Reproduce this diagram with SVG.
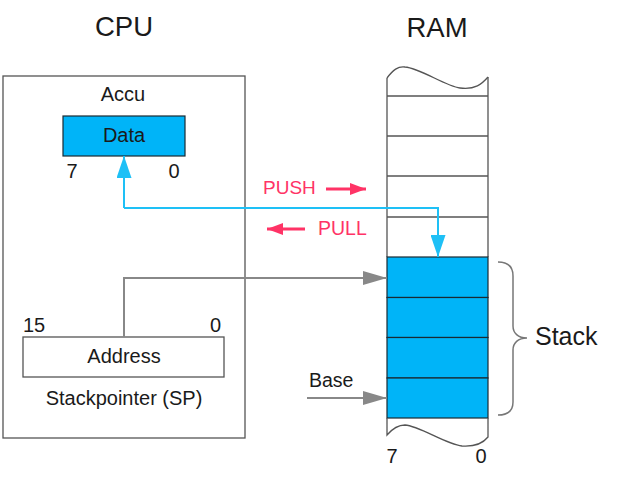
<svg xmlns="http://www.w3.org/2000/svg" width="621" height="486" viewBox="0 0 621 486">
<defs>
<style>
text{font-family:"Liberation Sans",Arial,sans-serif;fill:#1a1a1a;font-size:20px}
.box{fill:#fff;stroke:#555;stroke-width:1.3}
.blue{fill:#00b4f8;stroke:#1a2a33;stroke-width:1.2}
.cell{stroke:#555;stroke-width:1.3;fill:none}
.red{fill:#ff3366}
.redl{stroke:#ff3366;stroke-width:3;fill:none}
.gl{stroke:#888;stroke-width:2;fill:none}
.bl{stroke:#1ec0f6;stroke-width:2;fill:none}
</style>
<marker id="ag" markerWidth="24" markerHeight="14" viewBox="0 0 24 14" refX="24" refY="7" orient="auto" markerUnits="userSpaceOnUse"><path d="M0,0 L24,7 L0,14 z" fill="#888"/></marker>
<marker id="ab" markerWidth="22" markerHeight="15" viewBox="0 0 22 15" refX="22" refY="7.5" orient="auto" markerUnits="userSpaceOnUse"><path d="M0,0 L22,7.5 L0,15 z" fill="#1ec0f6"/></marker>
<marker id="ar" markerWidth="16" markerHeight="12" viewBox="0 0 16 12" refX="16" refY="6" orient="auto" markerUnits="userSpaceOnUse"><path d="M0,0 L16,6 L0,12 z" fill="#ff3366"/></marker>
</defs>
<rect width="621" height="486" fill="#fff"/>
<text x="124" y="36" style="font-size:27.5px" text-anchor="middle">CPU</text>
<text x="437" y="37" style="font-size:27.5px" text-anchor="middle">RAM</text>
<g id="cpu">
<rect class="box" x="3" y="76" width="242" height="362"/>
<text x="123" y="101" text-anchor="middle">Accu</text>
</g>
<g id="accu">
<rect class="blue" x="63" y="116" width="122" height="40"/>
<text x="124" y="142" text-anchor="middle">Data</text>
<text x="72" y="178" text-anchor="middle">7</text>
<text x="174" y="178" text-anchor="middle">0</text>
</g>
<g id="sp">
<rect class="box" x="23" y="337" width="201" height="40"/>
<text x="124" y="363" text-anchor="middle">Address</text>
<text x="23" y="332">15</text>
<text x="221" y="332" text-anchor="end">0</text>
<text x="124" y="405" text-anchor="middle">Stackpointer (SP)</text>
</g>
<g id="ram">
<path class="cell" d="M387,78 C393,70 398,66 405,67 C420,68 445,86 460,88 C475,90 482,84 488,77"/>
<path class="cell" d="M387,78 V257 M488,77 V257 M387,96 H488 M387,136 H488 M387,176 H488 M387,217 H488"/>
<rect class="blue" x="387" y="257" width="101" height="40.5"/>
<rect class="blue" x="387" y="297.5" width="101" height="40"/>
<rect class="blue" x="387" y="337.5" width="101" height="40.5"/>
<rect class="blue" x="387" y="378" width="101" height="40"/>
<path class="cell" d="M387,418 V435 C393,428 398,425 405,425 C420,426 445,444 462,446 C477,447 484,442 488,437 V418"/>
<text x="392" y="463" text-anchor="middle">7</text>
<text x="481" y="463" text-anchor="middle">0</text>
</g>
<g id="stack">
<path d="M498,262 C508,262 513,266 513,276 V326 C513,333 518,338 527,338 C518,338 513,343 513,350 V402 C513,411 508,415 498,415" fill="none" stroke="#777" stroke-width="1.5"/>
<text x="535" y="345" style="font-size:25px">Stack</text>
</g>
<g id="labels">
<text x="263" y="194" class="red" style="font-size:19px">PUSH</text>
<text x="318" y="235" class="red" style="font-size:19.5px">PULL</text>
<text x="309" y="387" style="font-size:19.5px">Base</text>
</g>
<g id="connectors">
<path class="redl" d="M326,189 H366" marker-end="url(#ar)"/>
<path class="redl" d="M305,229 H267" marker-end="url(#ar)"/>
<path class="bl" d="M124,208 V156" marker-end="url(#ab)"/>
<path class="bl" d="M124,208 H438 V257" marker-end="url(#ab)"/>
<path class="gl" d="M124,337 V278 H387" marker-end="url(#ag)"/>
<path class="gl" d="M307,398 H387" marker-end="url(#ag)"/>
</g>
</svg>
